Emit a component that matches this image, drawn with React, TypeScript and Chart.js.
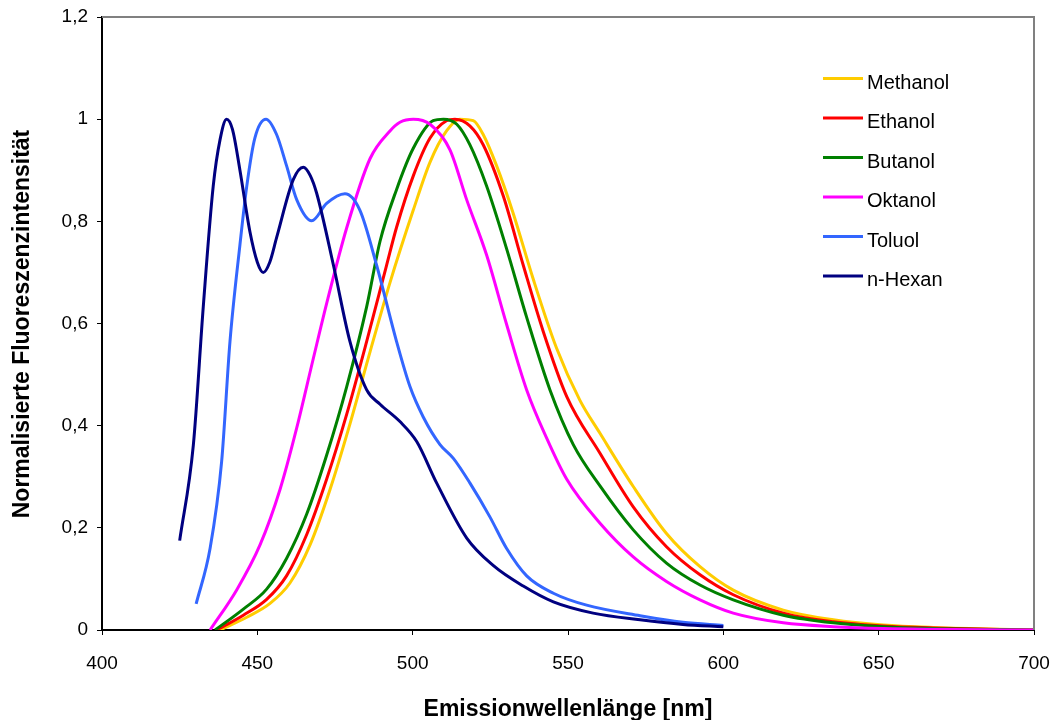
import React, { useEffect, useRef } from "react";
import { Chart, registerables } from "chart.js";

Chart.register(...registerables);

const FONT = '"Liberation Sans", Arial, Helvetica, sans-serif';

const seriesNames = ["Methanol", "Ethanol", "Butanol", "Oktanol", "Toluol", "n-Hexan"];
const seriesColors = ["#FFCC00", "#FF0000", "#008000", "#FF00FF", "#3366FF", "#000080"];

const xTitle = "Emissionwellenlänge [nm]";
const yTitle = "Normalisierte Fluoreszenzintensität";

const xMin = 400;
const xMax = 700;
const xStep = 50;
const yMin = 0;
const yMax = 1.2;
const yStep = 0.2;

const methanolNm = [438, 446.6, 454.1, 460.5, 467, 473.4, 479.8, 486.3, 492.7, 500.2, 505.6, 510.9, 515.2, 519.5, 522.7, 527, 532.4, 538.8, 546.3, 553.8, 560.3, 571, 581.7, 592.5, 603.2, 619.3, 635.4, 651.5, 667.6, 700];
const methanolI = [0, 0.025, 0.052, 0.092, 0.167, 0.275, 0.403, 0.545, 0.68, 0.822, 0.916, 0.977, 1.0, 0.997, 0.97, 0.909, 0.815, 0.687, 0.552, 0.45, 0.385, 0.281, 0.189, 0.124, 0.078, 0.039, 0.02, 0.0098, 0.005, 0];

const ethanolNm = [436.9, 445.5, 453, 459.4, 465.9, 472.3, 478.8, 485.2, 491.6, 494.8, 500.2, 505.6, 510.9, 513.6, 518.4, 522.7, 529.2, 535.6, 542, 549.6, 560.3, 571, 581.7, 592.5, 603.2, 619.3, 635.4, 651.5, 667.6, 700];
const ethanolI = [0, 0.029, 0.06, 0.106, 0.187, 0.295, 0.423, 0.565, 0.714, 0.788, 0.889, 0.963, 0.997, 1.0, 0.987, 0.95, 0.849, 0.714, 0.585, 0.457, 0.346, 0.241, 0.163, 0.108, 0.069, 0.033, 0.016, 0.0078, 0.004, 0];

const butanolNm = [436.4, 445.5, 453, 459.4, 465.9, 472.3, 478.8, 485.2, 489.5, 494.8, 500.2, 506.6, 509.9, 514.2, 518.4, 523.8, 530.2, 536.7, 544.2, 551.7, 560.3, 571, 581.7, 592.5, 603.2, 619.3, 635.4, 651.5, 667.6, 700];
const butanolI = [0, 0.041, 0.08, 0.14, 0.227, 0.342, 0.477, 0.633, 0.761, 0.862, 0.943, 0.997, 1.0, 0.99, 0.95, 0.869, 0.747, 0.612, 0.47, 0.363, 0.282, 0.196, 0.131, 0.088, 0.059, 0.029, 0.014, 0.0065, 0.003, 0];

const oktanolNm = [434.8, 443.4, 450.9, 457.3, 462.7, 468, 472.3, 478.8, 486.3, 492.7, 495.9, 500.2, 505.6, 512, 517.4, 523.8, 530.2, 536.7, 543.1, 549.6, 560.3, 571, 581.7, 592.5, 603.2, 619.3, 635.4, 651.5, 700];
const oktanolI = [0, 0.079, 0.167, 0.275, 0.396, 0.531, 0.639, 0.788, 0.923, 0.977, 0.994, 1.0, 0.99, 0.94, 0.842, 0.734, 0.599, 0.47, 0.376, 0.295, 0.209, 0.143, 0.095, 0.059, 0.033, 0.014, 0.0065, 0.003, 0];

const toluolNm = [430.3, 434.8, 438.5, 441.2, 444.4, 446.6, 449.2, 452.8, 456.2, 459.4, 462.7, 467.5, 472.3, 478.2, 483, 488.4, 494.8, 499.1, 503.4, 508.8, 513.1, 518.4, 524.9, 530.2, 536.7, 545.3, 556, 573.2, 587, 600];
const toluolI = [0.051, 0.16, 0.329, 0.565, 0.754, 0.869, 0.963, 1.0, 0.97, 0.909, 0.842, 0.801, 0.835, 0.854, 0.822, 0.714, 0.565, 0.477, 0.417, 0.363, 0.336, 0.288, 0.221, 0.16, 0.106, 0.072, 0.0486, 0.028, 0.015, 0.009];

const hexanNm = [425, 429.4, 432.6, 435.8, 438, 440.1, 442, 444.4, 447.6, 450, 451.9, 454, 456.2, 461.6, 464.8, 467, 469.1, 474.5, 479.8, 485.2, 489.5, 495.9, 501.3, 507.7, 517.4, 526, 535.6, 545.3, 558.1, 573.2, 587, 600];
const hexanI = [0.175, 0.362, 0.633, 0.869, 0.96, 1.0, 0.98, 0.9, 0.78, 0.72, 0.7, 0.72, 0.768, 0.882, 0.906, 0.89, 0.855, 0.714, 0.565, 0.47, 0.442, 0.408, 0.369, 0.288, 0.18, 0.126, 0.086, 0.055, 0.033, 0.02, 0.011, 0.0065];

const seriesNm = [methanolNm, ethanolNm, butanolNm, oktanolNm, toluolNm, hexanNm];
const seriesI = [methanolI, ethanolI, butanolI, oktanolI, toluolI, hexanI];

const fmt = (v: number) => {
  const r = Number(v.toFixed(1));
  return String(r).replace(".", ",");
};

const decorPlugin = {
  id: "decor",
  afterDraw(chart: any) {
    const { ctx, chartArea } = chart;
    const { left, right, top, bottom } = chartArea;
    ctx.save();
    ctx.strokeStyle = "#808080";
    ctx.lineWidth = 2;
    ctx.beginPath();
    ctx.moveTo(left, top);
    ctx.lineTo(right, top);
    ctx.lineTo(right, bottom);
    ctx.stroke();

    ctx.font = `20px ${FONT}`;
    ctx.textBaseline = "middle";
    ctx.textAlign = "left";
    seriesNames.forEach((name, i) => {
      const y = 78.5 + i * 39.5;
      ctx.strokeStyle = seriesColors[i];
      ctx.lineWidth = 3;
      ctx.beginPath();
      ctx.moveTo(823, y);
      ctx.lineTo(863, y);
      ctx.stroke();
      ctx.fillStyle = "#000";
      ctx.fillText(name, 867, y + 4.5);
    });

    ctx.fillStyle = "#000";
    ctx.font = `bold 23px ${FONT}`;
    ctx.textAlign = "center";
    ctx.textBaseline = "alphabetic";
    ctx.fillText(xTitle, 568, 716);
    ctx.translate(29, 324);
    ctx.rotate(-Math.PI / 2);
    ctx.fillText(yTitle, 0, 0);
    ctx.restore();
  },
};

export default function App() {
  const ref = useRef<HTMLCanvasElement | null>(null);
  useEffect(() => {
    if (!ref.current) return;
    const datasets = seriesNames.map((name, i) => ({
      label: name,
      data: seriesNm[i].map((x, j) => ({ x, y: seriesI[i][j] })),
      borderColor: seriesColors[i],
      backgroundColor: seriesColors[i],
      borderWidth: 3,
      pointRadius: 0,
      fill: false,
      cubicInterpolationMode: "monotone" as const,
      order: seriesNames.length - 1 - i,
    }));
    const chart = new Chart(ref.current, {
      type: "line",
      data: { datasets },
      options: {
        animation: false,
        responsive: false,
        maintainAspectRatio: false,
        layout: { padding: { top: 17, right: 20, left: 0, bottom: 0 } },
        plugins: {
          legend: { display: false },
          tooltip: { enabled: false },
        },
        scales: {
          x: {
            type: "linear",
            min: xMin,
            max: xMax,
            afterFit: (s: any) => {
              s.height = 90;
              s.paddingLeft = 0;
              s.paddingRight = 0;
            },
            ticks: {
              stepSize: xStep,
              color: "#000",
              font: { family: FONT, size: 19 },
              padding: 17,
              maxRotation: 0,
            },
            grid: {
              drawOnChartArea: false,
              drawTicks: true,
              tickLength: 5,
              tickColor: "#000",
              tickWidth: 1,
            },
            border: { display: true, color: "#000", width: 2 },
          },
          y: {
            type: "linear",
            min: yMin,
            max: yMax,
            afterFit: (s: any) => {
              s.width = 102;
              s.paddingTop = 0;
              s.paddingBottom = 0;
            },
            ticks: {
              stepSize: yStep,
              color: "#000",
              font: { family: FONT, size: 19 },
              padding: 9,
              callback: (v: any) => fmt(Number(v)),
            },
            grid: {
              drawOnChartArea: false,
              drawTicks: true,
              tickLength: 5,
              tickColor: "#000",
              tickWidth: 1,
            },
            border: { display: true, color: "#000", width: 2 },
          },
        },
      },
      plugins: [decorPlugin],
    });
    return () => chart.destroy();
  }, []);
  return (
    <div style={{ position: "absolute", left: 0, top: 0, width: 1054, height: 720, background: "#fff" }}>
      <canvas ref={ref} width={1054} height={720} style={{ display: "block" }} />
    </div>
  );
}
